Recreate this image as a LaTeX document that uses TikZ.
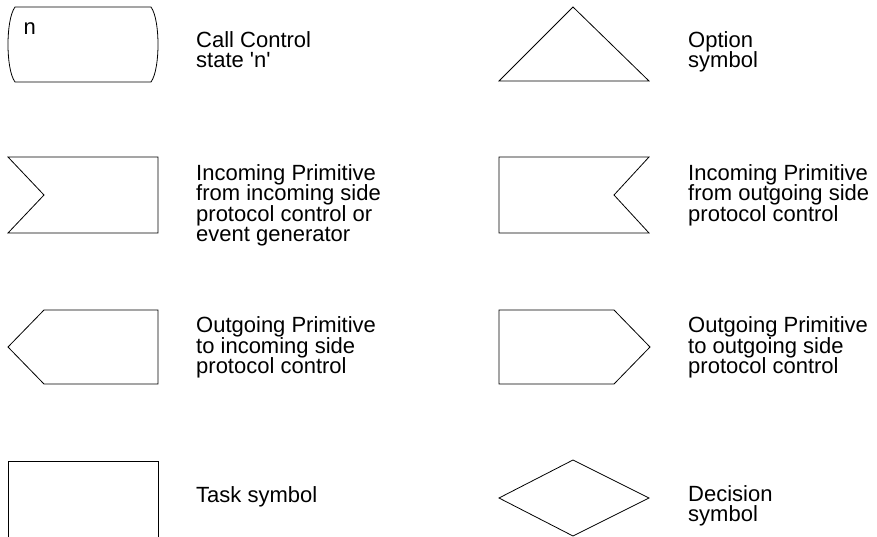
\documentclass[tikz,border=0pt]{standalone}
\usepackage{fontspec}
\setmainfont{Liberation Sans}
\newcommand{\sq}{\XeTeXglyph\XeTeXcharglyph"0027\relax}
\newcommand{\lblfont}{\fontsize{22}{20.5}\selectfont\lineskiplimit-100pt\relax\lineskip0pt\relax}
\begin{document}
\begin{tikzpicture}[x=1pt,y=-1pt,
  sym/.style={draw=black,line width=0.8pt,line join=miter},
  lbl/.style={anchor=base west,inner sep=0pt,align=left,font=\lblfont}]
\useasboundingbox (0,0) rectangle (877,536);
% row 1
\draw[sym] (15,7) -- (151,7) .. controls (156,14) and (158,30) .. (158,44.5)
  .. controls (158,59) and (156,75) .. (151,82) -- (15,82)
  .. controls (10,75) and (8,59) .. (8,44.5)
  .. controls (8,30) and (10,14) .. (15,7) -- cycle;
\node[lbl] (n) at (23.5,34.5) {n};
\node[lbl] (l1) at (196,67.5) {Call Control\\state \sq n\sq};
\draw[sym] (573,7) -- (649,81) -- (499,81) -- cycle;
\node[lbl] (r1) at (688,67.5) {Option\\symbol};
% row 2
\draw[sym] (8,157) -- (158,157) -- (158,233) -- (8,233) -- (44,195) -- cycle;
\node[lbl] (l2) at (196,241.5) {Incoming Primitive\\from incoming side\\protocol control or\\event generator};
\draw[sym] (499,157) -- (649,157) -- (614,195) -- (649,233) -- (499,233) -- cycle;
\node[lbl] (r2) at (688,221) {Incoming Primitive\\from outgoing side\\protocol control};
% row 3
\draw[sym] (44,310) -- (158,310) -- (158,384) -- (44,384) -- (8,347) -- cycle;
\node[lbl] (l3) at (196,373.5) {Outgoing Primitive\\to incoming side\\protocol control};
\draw[sym] (499,310) -- (614,310) -- (650,347) -- (614,384) -- (499,384) -- cycle;
\node[lbl] (r3) at (688,373.5) {Outgoing Primitive\\to outgoing side\\protocol control};
% row 4
\draw[sym] (8,461) rectangle (158,540);
\node[lbl] (l4) at (196,502) {Task symbol};
\draw[sym] (573,460) -- (649,498) -- (573,536) -- (499,498) -- cycle;
\node[lbl] (r4) at (688,521.5) {Decision\\symbol};
\end{tikzpicture}
\end{document}
